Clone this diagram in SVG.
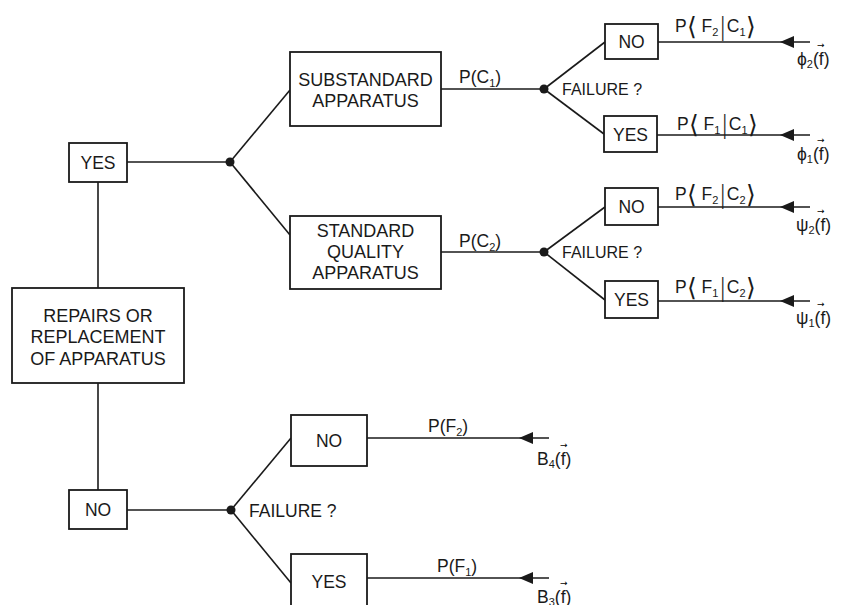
<svg xmlns="http://www.w3.org/2000/svg" width="843" height="605" viewBox="0 0 843 605">
<style>
  .box { fill: #fff; stroke: #1a1a1a; stroke-width: 1.8; }
  .ln { stroke: #1a1a1a; stroke-width: 1.6; fill: none; }
  .t { font-family: "Liberation Sans", Arial, sans-serif; font-size: 17.5px; fill: #1a1a1a; }
  .c { text-anchor: middle; }
  .s { font-size: 16px; }
  .sub { font-size: 11px; }
  .br { font-family: "DejaVu Sans", sans-serif; font-size: 25px; font-weight: 200; }
  .va { font-family: "DejaVu Sans", sans-serif; font-size: 9px; }
  .dot { fill: #1a1a1a; }
</style>
<defs>
  <path id="ah" d="M0,0 L14,-6 L14,6 Z" fill="#1a1a1a"/>
</defs>
<rect width="843" height="605" fill="#fff"/>

<g id="connectors">
  <line class="ln" x1="127" y1="162" x2="230" y2="162"/>
  <line class="ln" x1="98" y1="182" x2="98" y2="288"/>
  <line class="ln" x1="98" y1="383" x2="98" y2="490"/>
  <line class="ln" x1="230" y1="162" x2="290" y2="90"/>
  <line class="ln" x1="230" y1="162" x2="290" y2="235"/>
  <line class="ln" x1="441" y1="89" x2="544" y2="89"/>
  <line class="ln" x1="441" y1="252" x2="544" y2="252"/>
  <line class="ln" x1="544" y1="89" x2="605" y2="42"/>
  <line class="ln" x1="544" y1="89" x2="604" y2="134"/>
  <line class="ln" x1="544" y1="252" x2="605" y2="207"/>
  <line class="ln" x1="544" y1="252" x2="605" y2="300"/>
  <line class="ln" x1="658" y1="42" x2="810" y2="42"/>
  <line class="ln" x1="657" y1="135" x2="810" y2="135"/>
  <line class="ln" x1="658" y1="207" x2="810" y2="207"/>
  <line class="ln" x1="658" y1="301" x2="810" y2="301"/>
  <line class="ln" x1="127" y1="510" x2="231" y2="510"/>
  <line class="ln" x1="231" y1="510" x2="291" y2="438"/>
  <line class="ln" x1="231" y1="510" x2="291" y2="583"/>
  <line class="ln" x1="367" y1="438" x2="549" y2="438"/>
  <line class="ln" x1="367" y1="578" x2="549" y2="578"/>
  <use href="#ah" x="780" y="42"/>
  <use href="#ah" x="780" y="135"/>
  <use href="#ah" x="780" y="207"/>
  <use href="#ah" x="780" y="301"/>
  <use href="#ah" x="519" y="438"/>
  <use href="#ah" x="519" y="578"/>
  <circle class="dot" cx="230" cy="162" r="4.5"/>
  <circle class="dot" cx="544" cy="89" r="4.5"/>
  <circle class="dot" cx="544" cy="252" r="4.5"/>
  <circle class="dot" cx="231" cy="510" r="4.5"/>

  <text class="t" x="459" y="83">P(C<tspan class="sub" dy="4">1</tspan><tspan dy="-4">)</tspan></text>
  <text class="t" x="459" y="247">P(C<tspan class="sub" dy="4">2</tspan><tspan dy="-4">)</tspan></text>
  <text class="t s" x="562" y="95">FAILURE ?</text>
  <text class="t s" x="562" y="258">FAILURE ?</text>
  <text class="t" x="249" y="517">FAILURE ?</text>
  <text class="t" x="428" y="432">P(F<tspan class="sub" dy="4">2</tspan><tspan dy="-4">)</tspan></text>
  <text class="t" x="437" y="572">P(F<tspan class="sub" dy="4">1</tspan><tspan dy="-4">)</tspan></text>

  <text class="t" x="675" y="32">P<tspan class="br" dy="3">⟨</tspan><tspan dy="-3"> F</tspan><tspan class="sub" dy="4">2</tspan><tspan class="br" dy="-1">|</tspan><tspan dy="-3">C</tspan><tspan class="sub" dy="4">1</tspan><tspan class="br" dy="-1">⟩</tspan></text>
  <text class="t" x="677" y="130">P<tspan class="br" dy="3">⟨</tspan><tspan dy="-3"> F</tspan><tspan class="sub" dy="4">1</tspan><tspan class="br" dy="-1">|</tspan><tspan dy="-3">C</tspan><tspan class="sub" dy="4">1</tspan><tspan class="br" dy="-1">⟩</tspan></text>
  <text class="t" x="675" y="200">P<tspan class="br" dy="3">⟨</tspan><tspan dy="-3"> F</tspan><tspan class="sub" dy="4">2</tspan><tspan class="br" dy="-1">|</tspan><tspan dy="-3">C</tspan><tspan class="sub" dy="4">2</tspan><tspan class="br" dy="-1">⟩</tspan></text>
  <text class="t" x="675" y="293">P<tspan class="br" dy="3">⟨</tspan><tspan dy="-3"> F</tspan><tspan class="sub" dy="4">1</tspan><tspan class="br" dy="-1">|</tspan><tspan dy="-3">C</tspan><tspan class="sub" dy="4">2</tspan><tspan class="br" dy="-1">⟩</tspan></text>

  <text class="t" x="797" y="65">ϕ<tspan class="sub" dy="3">2</tspan><tspan dy="-3">(f)</tspan></text>
  <text class="va" x="817" y="48">→</text>
  <text class="t" x="797" y="160">ϕ<tspan class="sub" dy="3">1</tspan><tspan dy="-3">(f)</tspan></text>
  <text class="va" x="817" y="143">→</text>
  <text class="t" x="796" y="231">ψ<tspan class="sub" dy="3">2</tspan><tspan dy="-3">(f)</tspan></text>
  <text class="va" x="817" y="214">→</text>
  <text class="t" x="796" y="324">ψ<tspan class="sub" dy="3">1</tspan><tspan dy="-3">(f)</tspan></text>
  <text class="va" x="817" y="307">→</text>

  <text class="t" x="537" y="465">B<tspan class="sub" dy="3">4</tspan><tspan dy="-3">(f)</tspan></text>
  <text class="va" x="560" y="448">→</text>
  <text class="t" x="537" y="603">B<tspan class="sub" dy="3">3</tspan><tspan dy="-3">(f)</tspan></text>
  <text class="va" x="560" y="586">→</text>
</g>

<g id="yes-top">
  <rect class="box" x="69" y="143" width="58" height="39"/>
  <text class="t c" x="98" y="169">YES</text>
</g>
<g id="repairs">
  <rect class="box" x="12" y="288" width="172" height="95"/>
  <text class="t c" x="98" y="322" style="font-size:18px">REPAIRS OR</text>
  <text class="t c" x="98" y="343" style="font-size:18px">REPLACEMENT</text>
  <text class="t c" x="98" y="365" style="font-size:18px">OF APPARATUS</text>
</g>
<g id="no-bottom">
  <rect class="box" x="69" y="490" width="58" height="39"/>
  <text class="t c" x="98" y="516">NO</text>
</g>
<g id="substandard">
  <rect class="box" x="290" y="52" width="151" height="74"/>
  <text class="t c" x="365.5" y="86" style="font-size:18px">SUBSTANDARD</text>
  <text class="t c" x="365.5" y="107" style="font-size:18px">APPARATUS</text>
</g>
<g id="standard">
  <rect class="box" x="290" y="216" width="151" height="73"/>
  <text class="t c" x="365.5" y="237" style="font-size:18px">STANDARD</text>
  <text class="t c" x="365.5" y="258" style="font-size:18px">QUALITY</text>
  <text class="t c" x="365.5" y="279" style="font-size:18px">APPARATUS</text>
</g>
<g id="no-c1">
  <rect class="box" x="605" y="24" width="53" height="35"/>
  <text class="t c" x="631.5" y="48">NO</text>
</g>
<g id="yes-c1">
  <rect class="box" x="604" y="116" width="53" height="36"/>
  <text class="t c" x="630.5" y="141">YES</text>
</g>
<g id="no-c2">
  <rect class="box" x="605" y="188" width="53" height="37"/>
  <text class="t c" x="631.5" y="213">NO</text>
</g>
<g id="yes-c2">
  <rect class="box" x="605" y="281" width="53" height="37"/>
  <text class="t c" x="631.5" y="306">YES</text>
</g>
<g id="no-f">
  <rect class="box" x="291" y="415" width="76" height="51"/>
  <text class="t c" x="329" y="447">NO</text>
</g>
<g id="yes-f">
  <rect class="box" x="291" y="554" width="76" height="60"/>
  <text class="t c" x="329" y="588">YES</text>
</g>
</svg>
